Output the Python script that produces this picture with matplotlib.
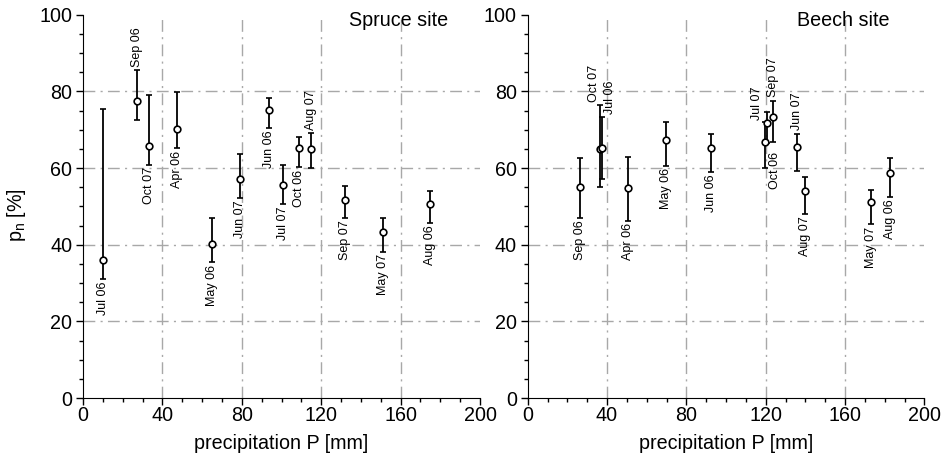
import matplotlib
matplotlib.use("Agg")
import matplotlib.pyplot as plt
from matplotlib.ticker import MultipleLocator

plt.rcParams['font.family'] = ['Liberation Sans', 'DejaVu Sans']

# ---------------- data ----------------
spruce_labels = ['Jul 06', 'Sep 06', 'Oct 07', 'Apr 06', 'May 06', 'Jun 07', 'Jun 06',
                 'Jul 07', 'Oct 06', 'Aug 07', 'Sep 07', 'May 07', 'Aug 06']
spruce_P = [10.0, 27.4, 33.2, 47.2, 65.1, 78.9, 93.7, 100.6, 108.7, 115.0, 132.0, 151.0, 174.8]
spruce_pn = [36.0, 77.5, 65.7, 70.1, 40.3, 57.1, 75.2, 55.6, 65.2, 65.0, 51.7, 43.2, 50.7]
spruce_hi = [75.3, 85.5, 79.0, 79.8, 47.0, 63.7, 78.3, 60.9, 68.0, 69.1, 55.4, 47.0, 54.1]
spruce_lo = [31.1, 72.6, 60.9, 65.2, 35.4, 52.2, 70.4, 50.6, 60.3, 59.9, 46.9, 38.2, 45.6]

beech_labels = ['Sep 06', 'Oct 07', 'Jul 06', 'Apr 06', 'May 06', 'Jun 06', 'Oct 06',
                'Jul 07', 'Sep 07', 'Jun 07', 'Aug 07', 'May 07', 'Aug 06']
beech_P = [26.2, 36.6, 37.5, 50.7, 69.7, 92.3, 119.5, 120.5, 123.5, 135.7, 139.7, 173.3, 182.6]
beech_pn = [55.0, 65.0, 65.3, 54.7, 67.3, 65.2, 66.7, 71.7, 73.2, 65.4, 54.1, 51.2, 58.6]
beech_hi = [62.7, 76.4, 73.3, 63.0, 72.1, 69.0, 72.1, 74.5, 77.5, 69.0, 57.6, 54.3, 62.6]
beech_lo = [47.0, 55.0, 57.1, 46.3, 60.6, 59.0, 59.9, 66.5, 66.8, 59.2, 48.1, 45.3, 52.5]

site_titles = ['Spruce site', 'Beech site']
x_ticks = [0, 40, 80, 120, 160, 200]
y_ticks = [0, 20, 40, 60, 80, 100]

# label placement: side ('a' above / 'b' below), x offset (pt), extra y offset (pt)
spruce_place = [('b', 0, 0), ('a', 0, 0), ('b', 0, 0), ('b', 0, 0), ('b', 0, 0), ('b', 0, 0),
                ('b', 0, 0), ('b', 0, 0), ('b', 0, 0), ('a', 0, 0), ('b', 0, 0), ('b', 0, 0),
                ('b', 0, 0)]
beech_place = [('b', 0, 0), ('a', -4.5, 0), ('a', 5.5, 0), ('b', 0, 0), ('b', 0, 0), ('b', 0, 0),
               ('b', 7.2, 14.0), ('a', -7.2, -8.0), ('a', 0, 0), ('a', 0, 0), ('b', 0, 0),
               ('b', 0, 0), ('b', 0, 0)]

fig = plt.figure(figsize=(9.41, 4.57), dpi=100)
ax1 = fig.add_axes([0.0882, 0.1291, 0.4219, 0.8387])
ax2 = fig.add_axes([0.5608, 0.1291, 0.4215, 0.8387])

FS = 14.2
LFS = 9.0
grid_kw = dict(color='#a8a8a8', lw=1.0, dashes=(8.5, 3.8, 1.5, 3.8), zorder=0)

datasets = [
    (ax1, spruce_labels, spruce_P, spruce_pn, spruce_hi, spruce_lo, spruce_place, 0.919),
    (ax2, beech_labels, beech_P, beech_pn, beech_hi, beech_lo, beech_place, 0.912),
]

for i, (ax, labs, P, pn, hi, lo, place, tx) in enumerate(datasets):
    ax.set_xlim(0, 200)
    ax.set_ylim(0, 100)
    for v in x_ticks[1:-1]:
        ax.axvline(v, **grid_kw)
    for v in y_ticks[1:-1]:
        ax.axhline(v, **grid_kw)
    yerr = [[p - l for p, l in zip(pn, lo)], [h - p for p, h in zip(pn, hi)]]
    ax.errorbar(P, pn, yerr=yerr, fmt='o', color='black', ecolor='black',
                elinewidth=1.3, capsize=2.4, capthick=1.3,
                markerfacecolor='white', markeredgecolor='black', markersize=4.8,
                markeredgewidth=1.2, zorder=3)
    for lab, x, h, l, (side, dx, dy) in zip(labs, P, hi, lo, place):
        if side == 'a':
            ax.annotate(lab, (x, h), xytext=(dx, 2.5 + dy), textcoords='offset points',
                        rotation=90, ha='center', va='bottom', fontsize=LFS)
        else:
            ax.annotate(lab, (x, l), xytext=(dx, -1.8 + dy), textcoords='offset points',
                        rotation=90, ha='center', va='top', fontsize=LFS)
    ax.text(tx, 0.986, site_titles[i], transform=ax.transAxes, ha='right', va='center',
            fontsize=FS)

    ax.spines['top'].set_visible(False)
    ax.spines['right'].set_visible(False)
    ax.set_xticks(x_ticks)
    ax.set_yticks(y_ticks)
    ax.xaxis.set_minor_locator(MultipleLocator(10))
    ax.yaxis.set_minor_locator(MultipleLocator(5))
    ax.tick_params(which='major', direction='out', length=4.8, width=1.0, labelsize=FS)
    ax.tick_params(axis='x', which='major', pad=1)
    ax.tick_params(axis='y', which='major', pad=3)
    ax.tick_params(which='minor', direction='out', length=3.0, width=1.0)
    ax.set_xlabel('precipitation P [mm]', fontsize=FS)
    ax.xaxis.set_label_coords(0.5, -0.095)

ax1.set_ylabel(r'p$_\mathregular{n}$ [%]', fontsize=FS)
ax1.yaxis.set_label_coords(-0.139, 0.477)

fig.savefig('out.png', dpi=100)
